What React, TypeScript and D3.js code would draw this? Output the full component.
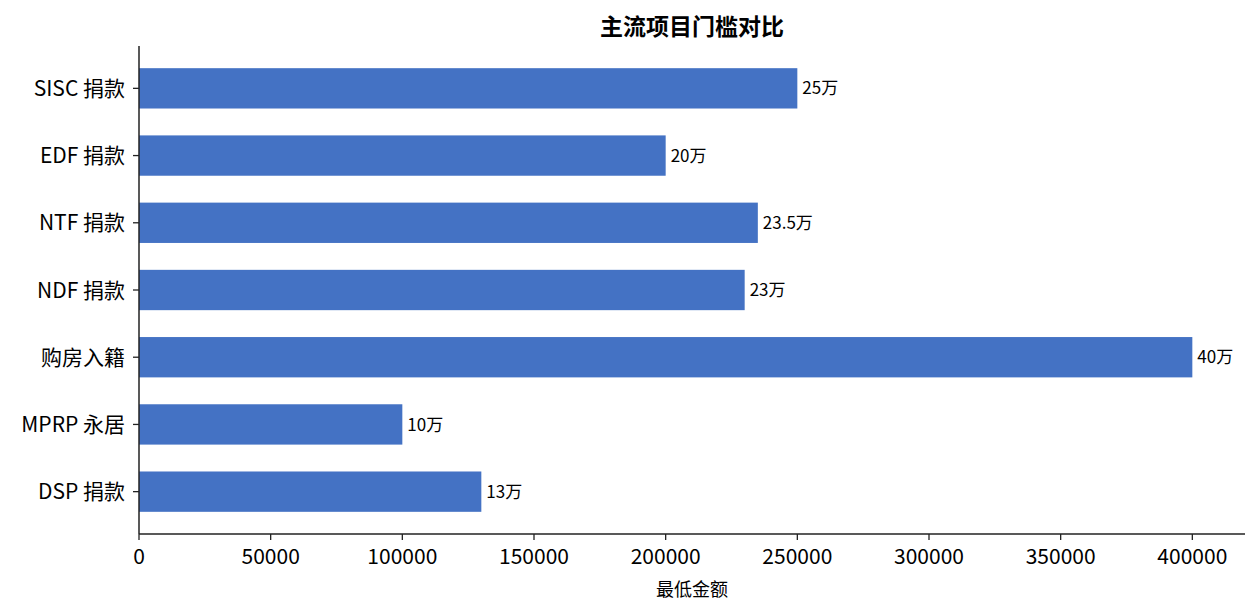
import React from 'react';
import * as d3 from 'd3';

// categories listed bottom → top, as drawn
const categories = ['DSP 捐款', 'MPRP 永居', '购房入籍', 'NDF 捐款', 'NTF 捐款', 'EDF 捐款', 'SISC 捐款'];
const minAmounts = [130000, 100000, 400000, 230000, 235000, 200000, 250000];
const valueLabels = ['13万', '10万', '40万', '23万', '23.5万', '20万', '25万'];
const xTicks = [0, 50000, 100000, 150000, 200000, 250000, 300000, 350000, 400000];

const W = 1260;
const H = 615;
const FONT = '"Noto Sans CJK SC", "Noto Sans", sans-serif';

export default function App() {
  const left = 139;
  const right = 1245;
  const top = 46;
  const bottom = 534;

  const x = d3.scaleLinear().domain([0, 420000]).range([left, right]);
  const y = d3.scaleLinear().domain([-0.63, categories.length - 1 + 0.63]).range([bottom, top]);
  const barH = (y(0) - y(0.6));

  return (
    <svg width={W} height={H} style={{ position: 'absolute', left: 0, top: 0, background: '#fff' }}
      fontFamily={FONT}>
      <text x={(left + right) / 2} y={35} textAnchor="middle" fontSize={23} fontWeight="bold" fill="#000">
        主流项目门槛对比
      </text>

      {/* bars */}
      {minAmounts.map((v, i) => (
        <g key={categories[i]}>
          <rect x={x(0)} y={y(i) - barH / 2} width={x(v) - x(0)} height={barH} fill="#4472C4" />
          <text x={x(v) + 5} y={y(i)} dy="0.36em" fontSize={17} fill="#000">{valueLabels[i]}</text>
        </g>
      ))}

      {/* y axis */}
      <line x1={left} x2={left} y1={top} y2={bottom} stroke="#222" strokeWidth={1.5} />
      {categories.map((c, i) => (
        <g key={c}>
          <line x1={left - 6} x2={left} y1={y(i)} y2={y(i)} stroke="#222" strokeWidth={1.3} />
          <text x={left - 14} y={y(i)} dy="0.36em" textAnchor="end" fontSize={21} fill="#000">{c}</text>
        </g>
      ))}

      {/* x axis */}
      <line x1={left} x2={right} y1={bottom} y2={bottom} stroke="#222" strokeWidth={1.5} />
      {xTicks.map(t => (
        <g key={t}>
          <line x1={x(t)} x2={x(t)} y1={bottom} y2={bottom + 6} stroke="#222" strokeWidth={1.3} />
          <text x={x(t)} y={bottom + 30} textAnchor="middle" fontSize={21} fill="#000">{t}</text>
        </g>
      ))}
      <text x={(left + right) / 2} y={596} textAnchor="middle" fontSize={18} fill="#000">最低金额</text>
    </svg>
  );
}
